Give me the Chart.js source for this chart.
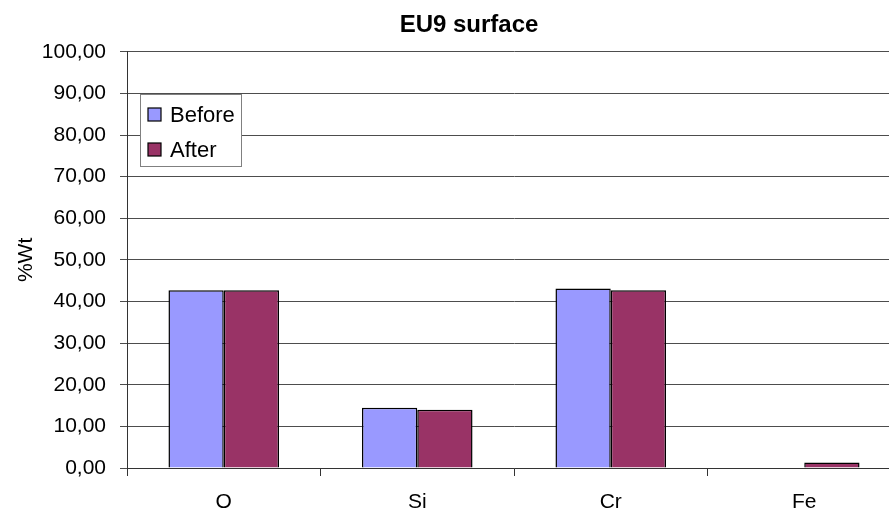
<!DOCTYPE html>
<html>
<head>
<meta charset="utf-8">
<script src="https://cdn.jsdelivr.net/npm/chart.js@4/dist/chart.umd.min.js"></script>
<style>
  html, body { margin: 0; padding: 0; background: #fff; overflow: hidden; }
  #wrap { width: 938px; height: 517px; }
</style>
</head>
<body>
<div id="wrap"><canvas id="c" width="938" height="517"></canvas></div>
<script>
// Element composition of the EU9 surface, before and after treatment
const categories = ['O', 'Si', 'Cr', 'Fe'];
const seriesNames = ['Before', 'After'];
const beforeValues = [42.7, 14.5, 43.1, 0];
const afterValues = [42.7, 14.0, 42.7, 1.3];
const yTicks = [0, 10, 20, 30, 40, 50, 60, 70, 80, 90, 100];

const FONT = "'Liberation Sans', Arial, sans-serif";
const TEXT_SIZE = 21;
const colors = ['#9999FF', '#993366'];

// Boxed legend drawn inside the plot area, top-left
const boxLegend = {
  id: 'boxLegend',
  afterDraw(chart) {
    const ctx = chart.ctx;
    const x = 140.5, y = 94.5, w = 101, h = 72;
    ctx.save();
    ctx.fillStyle = '#fff';
    ctx.fillRect(x, y, w, h);
    ctx.strokeStyle = '#808080';
    ctx.lineWidth = 1;
    ctx.strokeRect(x, y, w, h);
    chart.data.datasets.forEach((ds, i) => {
      const cy = 115 + i * 35;
      ctx.fillStyle = ds.backgroundColor;
      ctx.fillRect(148, cy - 7, 13, 13);
      ctx.strokeStyle = '#000';
      ctx.lineWidth = 1.2;
      ctx.strokeRect(148, cy - 7, 13, 13);
      ctx.fillStyle = '#000';
      ctx.font = '22px ' + FONT;
      ctx.textBaseline = 'middle';
      ctx.textAlign = 'left';
      ctx.fillText(ds.label, 170, cy + 1);
    });
    ctx.restore();
  }
};

new Chart(document.getElementById('c'), {
  type: 'bar',
  data: {
    labels: categories,
    datasets: [
      { label: seriesNames[0], data: beforeValues, backgroundColor: colors[0] },
      { label: seriesNames[1], data: afterValues, backgroundColor: colors[1] }
    ]
  },
  options: {
    responsive: false,
    animation: false,
    devicePixelRatio: 1,
    layout: { padding: 0 },
    datasets: {
      bar: {
        categoryPercentage: 2 / 3.5,
        barPercentage: 1,
        borderColor: '#000',
        borderWidth: 1.5
      }
    },
    plugins: {
      legend: { display: false },
      tooltip: { enabled: false },
      title: {
        display: true,
        text: 'EU9 surface',
        color: '#000',
        font: { family: FONT, size: 24, weight: 'bold', lineHeight: 1.2 },
        padding: { top: 11, bottom: 12 }
      }
    },
    scales: {
      x: {
        grid: { offset: true, drawOnChartArea: false, drawTicks: true, tickLength: 8, color: '#333' },
        border: { color: '#333', width: 1 },
        ticks: { color: '#000', font: { family: FONT, size: TEXT_SIZE }, padding: 14 },
        afterFit(scale) { scale.height = 49; }
      },
      y: {
        min: 0,
        max: 100,
        afterBuildTicks(scale) { scale.ticks = yTicks.map(v => ({ value: v })); },
        grid: { color: '#4d4d4d', lineWidth: 1, drawTicks: true, tickLength: 7 },
        border: { color: '#333', width: 1 },
        ticks: {
          color: '#000',
          font: { family: FONT, size: TEXT_SIZE },
          padding: 14,
          callback: v => v.toFixed(2).replace('.', ',')
        },
        title: {
          display: true,
          text: '%Wt',
          color: '#000',
          font: { family: FONT, size: TEXT_SIZE, lineHeight: 1.2 },
          padding: { top: 14, bottom: 0 }
        },
        afterFit(scale) { scale.width = 127; }
      },
      // empty right-hand margin so the plot ends short of the canvas edge
      yRight: {
        position: 'right',
        display: true,
        grid: { display: false },
        border: { display: false },
        ticks: { display: false },
        afterFit(scale) { scale.width = 37; }
      }
    }
  },
  plugins: [boxLegend]
});
</script>
</body>
</html>
